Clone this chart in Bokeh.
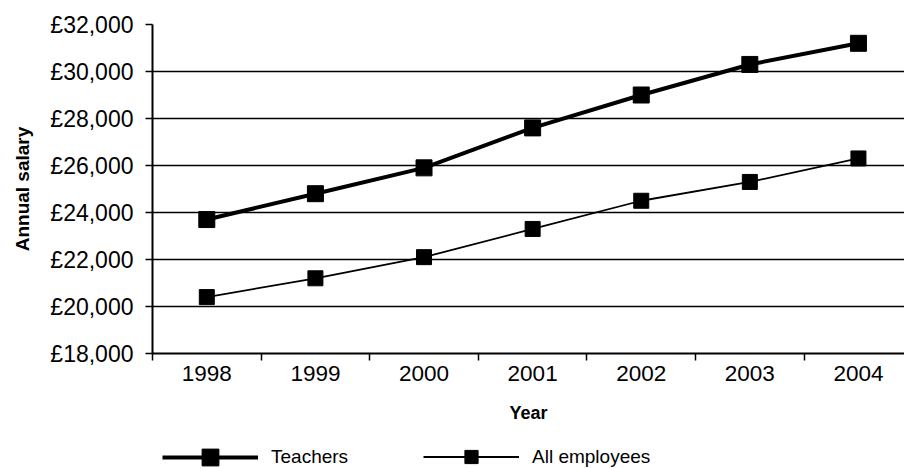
from bokeh.plotting import figure
from bokeh.layouts import column
from bokeh.models import FixedTicker, Range1d, Legend, LegendItem
from bokeh.embed import file_html
from bokeh.resources import INLINE

# Average annual salary, 1998-2004
years = ["1998", "1999", "2000", "2001", "2002", "2003", "2004"]
teachers = [23700, 24800, 25900, 27600, 29000, 30300, 31200]
all_employees = [20400, 21200, 22100, 23300, 24500, 25300, 26300]
y_ticks = [18000, 20000, 22000, 24000, 26000, 28000, 30000, 32000]
series_names = ["Teachers", "All employees"]

x = list(range(len(years)))

FONT = "Liberation Sans"
TEACH_STYLE = dict(line_color="black", line_width=4)
ALL_STYLE = dict(line_color="black", line_width=1.8)
TEACH_MARK = dict(marker="square", size=16, fill_color="black", line_color="black")
ALL_MARK = dict(marker="square", size=15, fill_color="black", line_color="black")

p = figure(
    width=904, height=425,
    output_backend="svg", toolbar_location=None,
    x_range=Range1d(-0.5, 6.424), y_range=Range1d(18000, 32000),
    min_border_left=152, min_border_right=0,
    min_border_top=24, min_border_bottom=71,
)
p.outline_line_color = None
p.background_fill_color = "white"
p.border_fill_color = "white"

# horizontal gridlines
p.xgrid.grid_line_color = None
p.ygrid.grid_line_color = "black"
p.ygrid.grid_line_width = 1.3
p.ygrid.ticker = FixedTicker(ticks=y_ticks)

# y axis
ya = p.yaxis[0]
ya.ticker = FixedTicker(ticks=y_ticks)
ya.major_label_overrides = {v: f"£{v:,}" for v in y_ticks}
ya.major_label_text_font = FONT
ya.major_label_text_font_size = "23px"
ya.major_label_text_color = "black"
ya.major_label_standoff = 12
ya.major_tick_out = 7
ya.major_tick_in = 0
ya.major_tick_line_color = "black"
ya.major_tick_line_width = 1.5
ya.minor_tick_line_color = None
ya.axis_line_color = "black"
ya.axis_line_width = 2
ya.axis_label = "Annual salary"
ya.axis_label_text_font = FONT
ya.axis_label_text_font_style = "bold"
ya.axis_label_text_font_size = "19px"
ya.axis_label_text_color = "black"
ya.axis_label_standoff = 14

# x axis: year labels at category centres, ticks on category boundaries
xa = p.xaxis[0]
xa.ticker = FixedTicker(ticks=x, minor_ticks=[i - 0.5 for i in range(len(years) + 1)])
xa.major_label_overrides = {i: y for i, y in zip(x, years)}
xa.major_label_text_font = FONT
xa.major_label_text_font_size = "22.5px"
xa.major_label_text_color = "black"
xa.major_label_standoff = 5
xa.major_tick_out = 0
xa.major_tick_in = 0
xa.minor_tick_out = 7
xa.minor_tick_in = 0
xa.minor_tick_line_color = "black"
xa.minor_tick_line_width = 1.5
xa.axis_line_color = "black"
xa.axis_line_width = 2
xa.axis_label = "Year"
xa.axis_label_text_font = FONT
xa.axis_label_text_font_style = "bold"
xa.axis_label_text_font_size = "18px"
xa.axis_label_text_color = "black"
xa.axis_label_standoff = 19

# series
p.line(x, teachers, **TEACH_STYLE)
p.scatter(x, teachers, **TEACH_MARK)
p.line(x, all_employees, **ALL_STYLE)
p.scatter(x, all_employees, **ALL_MARK)

# key strip underneath the chart; its frame lines up with the chart frame.
# The key's own ranges sit far below the salaries, so its series renderers
# only contribute their legend samples.
k = figure(
    width=904, height=43,
    output_backend="svg", toolbar_location=None,
    x_axis_location=None, y_axis_location=None,
    x_range=Range1d(0, 1), y_range=Range1d(0, 1),
    min_border=0,
)
k.outline_line_color = None
k.grid.grid_line_color = None
k.background_fill_color = "white"
k.border_fill_color = "white"

key_renderers = [
    [k.line(x, teachers, **TEACH_STYLE), k.scatter(x, teachers, **TEACH_MARK)],
    [k.line(x, all_employees, **ALL_STYLE), k.scatter(x, all_employees, **ALL_MARK)],
]

# legend sample markers are 0.4 of the glyph box height
for name, rends, vx, gh in zip(series_names, key_renderers, [10, 271], [42, 33]):
    k.add_layout(Legend(
        items=[LegendItem(label=name, renderers=rends)],
        location=(vx, 11 - gh // 2),
        glyph_width=96, glyph_height=gh,
        label_standoff=13, padding=0, margin=0, spacing=0,
        border_line_color=None, background_fill_alpha=0,
        label_text_font=FONT, label_text_font_size="19px",
        label_text_color="black",
    ))

open("out.html", "w").write(file_html(column(p, k, spacing=0), INLINE))
